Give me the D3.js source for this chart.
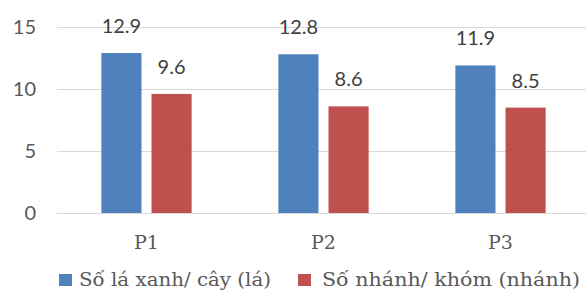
<!DOCTYPE html>
<html>
<head>
<meta charset="utf-8">
<script src="https://cdn.jsdelivr.net/npm/d3@7"></script>
<style>
body{margin:0;background:#fff}
</style>
</head>
<body>
<script>
const categories = ["P1", "P2", "P3"]
const seriesNames = ["Số lá xanh/ cây (lá)", "Số nhánh/ khóm (nhánh)"]
const leaves = [12.9, 12.8, 11.9]
const branches = [9.6, 8.6, 8.5]
const yTicks = [0, 5, 10, 15]
const colors = ["#4f81bd", "#c0504d"]

const svg = d3.select("body")
              .append("svg")
              .attr("width", 586)
              .attr("height", 291)

const yscale = d3.scaleLinear()
                 .domain([0, 15])
                 .range([213, 27])

const xscale = d3.scaleBand()
                 .domain(categories)
                 .range([58, 589])
                 .paddingInner(0.49)
                 .paddingOuter(0.245)

const xsub = d3.scaleBand()
               .domain([0, 1])
               .range([0, xscale.bandwidth()])
               .paddingInner(0.2)

// grid lines
svg.append("g")
   .selectAll("line")
   .data(yTicks)
   .enter()
   .append("line")
   .attr("x1", 57)
   .attr("x2", 586)
   .attr("y1", d => Math.round(yscale(d)) + 0.5)
   .attr("y2", d => Math.round(yscale(d)) + 0.5)
   .attr("stroke", "#d9d9d9")
   .attr("stroke-width", 1)

// y axis labels
const yaxis = svg.append("g")
                 .attr("transform", "translate(36,0)")
                 .call(d3.axisLeft(yscale).tickValues(yTicks).tickSize(0).tickPadding(0))
yaxis.select(".domain").remove()
yaxis.selectAll("text")
     .attr("font-family", "Lato, 'Open Sans', sans-serif")
     .attr("font-size", "20px")
     .attr("fill", "#595959")

const rows = categories.map((c, i) => ({cat: c, vals: [leaves[i], branches[i]]}))

const groups = svg.selectAll("g.cat")
                  .data(rows)
                  .enter()
                  .append("g")
                  .attr("class", "cat")
                  .attr("transform", d => "translate(" + xscale(d.cat) + ",0)")

groups.selectAll("rect")
      .data(d => d.vals)
      .enter()
      .append("rect")
      .attr("x", (d, i) => xsub(i))
      .attr("y", d => yscale(d))
      .attr("width", xsub.bandwidth())
      .attr("height", d => yscale(0) - yscale(d))
      .attr("fill", (d, i) => colors[i])

groups.selectAll("text")
      .data(d => d.vals)
      .enter()
      .append("text")
      .attr("x", (d, i) => xsub(i) + xsub.bandwidth() / 2)
      .attr("y", d => yscale(d) - 20)
      .attr("text-anchor", "middle")
      .attr("font-family", "Lato, 'Open Sans', sans-serif")
      .attr("font-size", "20px")
      .attr("fill", "#404040")
      .text(d => d.toFixed(1))

// category labels
const xaxis = svg.append("g")
                 .attr("transform", "translate(0,233)")
                 .call(d3.axisBottom(xscale).tickSize(0).tickPadding(0))
xaxis.select(".domain").remove()
xaxis.selectAll("text")
     .attr("dy", null)
     .attr("y", 16)
     .attr("font-family", "DejaVu Serif")
     .attr("font-size", "19px")
     .attr("fill", "#595959")

// legend
const legendX = [59, 298]
const legendLen = [192, 258]
const legend = svg.append("g")
                  .selectAll("g")
                  .data(seriesNames)
                  .enter()
                  .append("g")
                  .attr("transform", (d, i) => "translate(" + legendX[i] + ",274)")

legend.append("rect")
      .attr("width", 13)
      .attr("height", 12)
      .attr("fill", (d, i) => colors[i])

legend.append("text")
      .attr("x", (d, i) => i ? 24 : 20)
      .attr("y", 12)
      .attr("font-family", "DejaVu Serif")
      .attr("font-size", "18px")
      .attr("textLength", (d, i) => legendLen[i])
      .attr("lengthAdjust", "spacingAndGlyphs")
      .attr("fill", "#595959")
      .text(d => d)
</script>
</body>
</html>
